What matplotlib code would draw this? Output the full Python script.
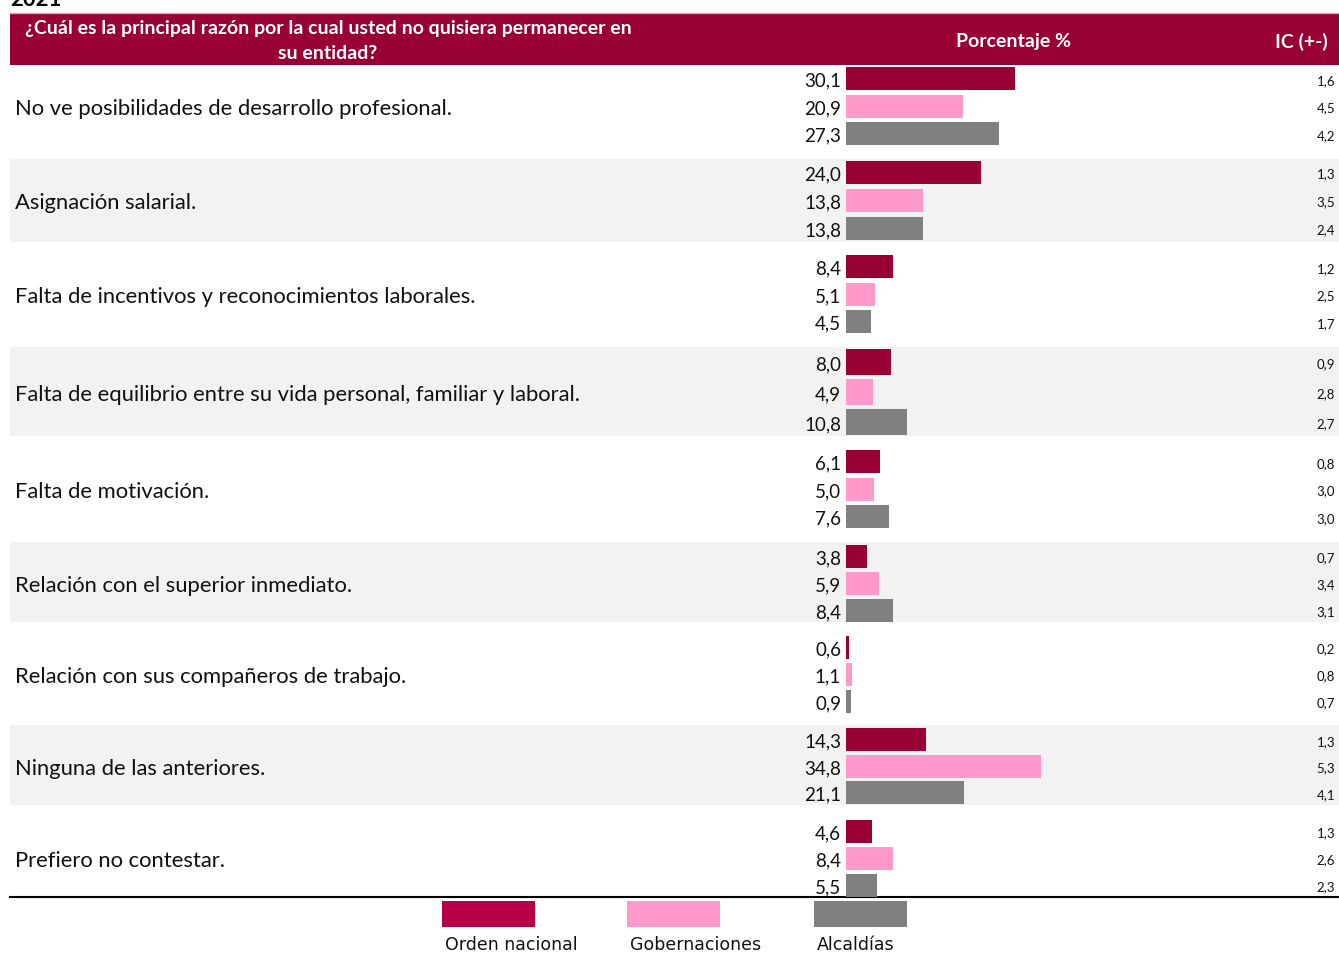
import matplotlib
matplotlib.use("Agg")
import matplotlib.pyplot as plt
from matplotlib.patches import Rectangle

# ---------------- data ----------------
categories = [
    "No ve posibilidades de desarrollo profesional.",
    "Asignación salarial.",
    "Falta de incentivos y reconocimientos laborales.",
    "Falta de equilibrio entre su vida personal, familiar y laboral.",
    "Falta de motivación.",
    "Relación con el superior inmediato.",
    "Relación con sus compañeros de trabajo.",
    "Ninguna de las anteriores.",
    "Prefiero no contestar.",
]
series_names = ["Orden nacional", "Gobernaciones", "Alcaldías"]
orden_nacional = [30.1, 24.0, 8.4, 8.0, 6.1, 3.8, 0.6, 14.3, 4.6]
gobernaciones = [20.9, 13.8, 5.1, 4.9, 5.0, 5.9, 1.1, 34.8, 8.4]
alcaldias = [27.3, 13.8, 4.5, 10.8, 7.6, 8.4, 0.9, 21.1, 5.5]
ic_orden = [1.6, 1.3, 1.2, 0.9, 0.8, 0.7, 0.2, 1.3, 1.3]
ic_gob = [4.5, 3.5, 2.5, 2.8, 3.0, 3.4, 0.8, 5.3, 2.6]
ic_alc = [4.2, 2.4, 1.7, 2.7, 3.0, 3.1, 0.7, 4.1, 2.3]

header_question = "¿Cuál es la principal razón por la cual usted no quisiera permanecer en\nsu entidad?"
header_pct = "Porcentaje %"
header_ic = "IC (+-)"
year_label = "2021"

# ---------------- layout (pixels) ----------------
W, H = 1339, 954
row_edges = [66, 160, 243, 348, 437, 543, 623, 726, 806, 898]
row_mid = [107, 201, 295, 393, 490, 584, 675, 767, 859]
row_step = [27.5, 28, 27.5, 30, 27.5, 27, 27, 26.5, 27]
bar_h = [23, 23, 23, 26, 23, 23, 23, 23, 23]
bar_x0 = 846
px_per_unit = 5.61
txt_dy = 2  # small downward nudge for text vertical centring

colors = ["#990033", "#FF99CC", "#808080"]
legend_colors = ["#B70046", "#FF99CC", "#808080"]
header_color = "#990033"
band_color = "#F2F2F2"

fig = plt.figure(figsize=(W / 100, H / 100), dpi=100)
bg = fig.add_axes([0, 0, 1, 1])
bg.set_xlim(0, W)
bg.set_ylim(H, 0)
bg.axis("off")

font = "Lato"

# year (clipped at top as in the source)
bg.text(10, 10, year_label, fontsize=16, fontweight="bold", family=font,
        ha="left", va="bottom", color="black")

# header band
bg.add_patch(Rectangle((10, 14), W - 10, 52, facecolor=header_color, edgecolor="none"))
bg.plot([10, W], [14, 14], color="#D9A0B4", lw=1)
bg.text(328, 41, header_question, color="white", fontsize=14, fontweight="bold",
        family=font, ha="center", va="center", linespacing=1.6)
bg.text(1013, 42, header_pct, color="white", fontsize=14, fontweight="bold",
        family=font, ha="center", va="center")
bg.text(1328, 42, header_ic, color="white", fontsize=14, fontweight="bold",
        family=font, ha="right", va="center")

# alternating row bands
for i in range(len(categories)):
    if i % 2 == 1:
        bg.add_patch(Rectangle((10, row_edges[i]), W - 10, row_edges[i + 1] - row_edges[i],
                               facecolor=band_color, edgecolor="none", zorder=0))

# bars axes
axb = fig.add_axes([bar_x0 / W, 0, (W - bar_x0) / W, 1])
axb.set_xlim(0, (W - bar_x0) / px_per_unit)
axb.set_ylim(H, 0)
axb.axis("off")
axb.patch.set_alpha(0)

all_series = [orden_nacional, gobernaciones, alcaldias]
all_ic = [ic_orden, ic_gob, ic_alc]

def fmt(v):
    return f"{v:.1f}".replace(".", ",")

for i, cat in enumerate(categories):
    bg.text(15, row_mid[i] + txt_dy, cat, fontsize=15.8, family=font, ha="left", va="center",
            color="#111111")
    for s in range(3):
        y = row_mid[i] + (s - 1) * row_step[i]
        axb.barh(y, all_series[s][i], height=bar_h[i], left=0, color=colors[s], edgecolor="none")
        bg.text(841, y + 1.5, fmt(all_series[s][i]), fontsize=13.5, family=font,
                ha="right", va="center", color="#111111")
        bg.text(1335, y + 1.5, fmt(all_ic[s][i]), fontsize=9.5, family=font,
                ha="right", va="center", color="#111111")

# bottom line
bg.plot([10, W], [898, 898], color="black", lw=1.5)

# legend
leg_x = [442, 627, 814]
for k in range(3):
    bg.add_patch(Rectangle((leg_x[k], 902), 93, 26, facecolor=legend_colors[k], edgecolor="none"))
    bg.text(leg_x[k] + 3, 945, series_names[k], fontsize=12.5, family="DejaVu Sans",
            ha="left", va="center", color="#111111")

fig.savefig("out.png", dpi=100)
